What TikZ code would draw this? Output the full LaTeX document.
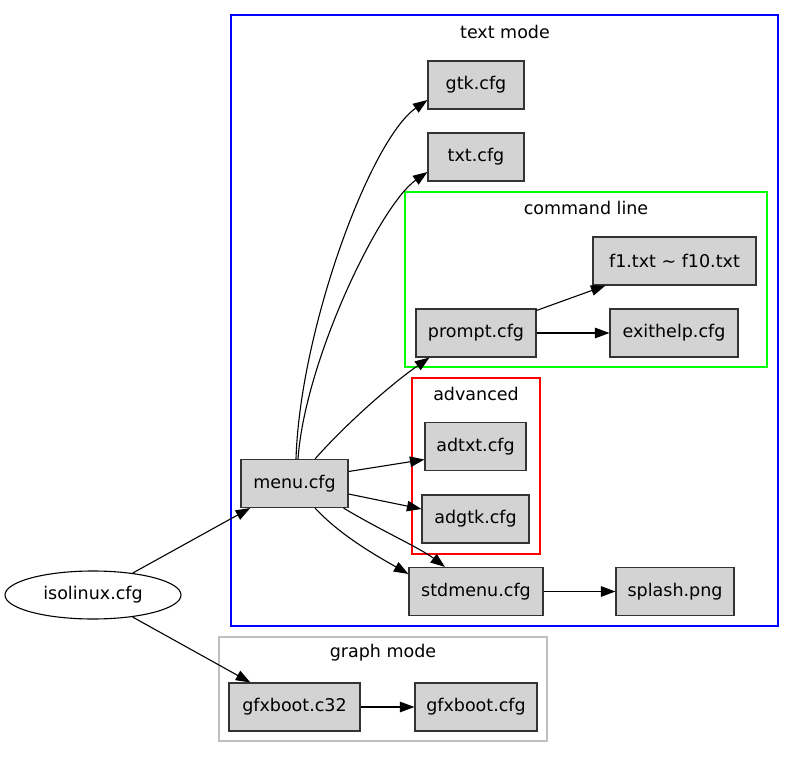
\documentclass[tikz,border=0pt]{standalone}
\usepackage{fontspec}
\setmainfont{DejaVu Sans}
\usetikzlibrary{arrows.meta,shapes.geometric,calc}
\definecolor{boxfill}{HTML}{D3D3D3}
\definecolor{boxline}{HTML}{333333}
\begin{document}
\begin{tikzpicture}[x=1pt,y=-1pt,
  font=\fontsize{17.5}{20}\selectfont,
  box/.style={draw=boxline, fill=boxfill, line width=1.1pt, minimum height=48pt, inner sep=0pt},
  edge/.style={line width=1.1pt, -{Triangle[length=14.5pt,width=10.5pt]}},
  cluster/.style={line width=1.1pt}]
\useasboundingbox (0,0) rectangle (795,757);
\fill[white] (0,0) rectangle (795,757);
% clusters
\draw[cluster, draw=blue] (231,15) rectangle (778,626);
\node (tmlabel) at (505,32) {text mode};
\draw[cluster, draw=green] (405,192) rectangle (767,367);
\node (cllabel) at (586,208) {command line};
\draw[cluster, draw=red] (412,378) rectangle (540,554);
\node (advlabel) at (476,394) {advanced};
\draw[cluster, draw=black!25] (219,637) rectangle (547,741);
\node (gmlabel) at (383,653) {graph mode};
% nodes
\node[box, minimum width=96pt] (gtk) at (476,85) {gtk.cfg};
\node[box, minimum width=96pt] (txt) at (476,157) {txt.cfg};
\node[box, minimum width=163pt] (f1) at (674.5,261) {f1.txt \textasciitilde{} f10.txt};
\node[box, minimum width=120pt] (prompt) at (476,333) {prompt.cfg};
\node[box, minimum width=128pt] (exithelp) at (674,333) {exithelp.cfg};
\node[box, minimum width=101pt] (adtxt) at (475.5,446.5) {adtxt.cfg};
\node[box, minimum width=107pt] (adgtk) at (475.5,519) {adgtk.cfg};
\node[box, minimum width=107pt] (menu) at (294.5,483.5) {menu.cfg};
\node[box, minimum width=134pt] (stdmenu) at (476,591.5) {stdmenu.cfg};
\node[box, minimum width=118pt] (splash) at (675,591.5) {splash.png};
\node[ellipse, draw=black, line width=1.1pt, minimum width=176pt, minimum height=48pt, inner sep=0pt] (iso) at (93,595) {isolinux.cfg};
\node[box, minimum width=131pt] (gfxc32) at (294.5,707) {gfxboot.c32};
\node[box, minimum width=122pt] (gfxcfg) at (476,707) {gfxboot.cfg};
% edges
\draw[edge] (iso) -- (menu);
\draw[edge] (iso) -- (gfxc32);
\draw[edge] ($(menu.north)+(1.5,0)$) .. controls (300,330) and (370,140) .. ($(gtk.west)+(0,15)$);
\draw[edge] ($(menu.north)+(3.5,0)$) .. controls (305,360) and (380,205) .. ($(txt.west)+(0,15)$);
\draw[edge] ($(menu.north)+(20.5,0)$) .. controls (345,425) and (390,385) .. ($(prompt.south west)+(14,0)$);
\draw[edge] ($(menu.east)+(0,-12)$) -- ($(adtxt.west)+(0,13)$);
\draw[edge] ($(menu.east)+(0,10.5)$) -- ($(adgtk.west)+(0,-10)$);
\draw[edge] ($(menu.south)+(20.5,0)$) .. controls (340,535) and (375,555) .. ($(stdmenu.north west)+(0,7)$);
\draw[edge] ($(menu.south east)+(-5,0)$) .. controls (380,530) and (420,548) .. ($(stdmenu.north)+(-31,0)$);
\draw[edge] ($(prompt.north east)+(0,2)$) -- ($(f1.south west)+(13,0)$);
\draw[edge] (prompt) -- (exithelp);
\draw[edge] (stdmenu) -- (splash);
\draw[edge] (gfxc32) -- (gfxcfg);
\end{tikzpicture}
\end{document}
